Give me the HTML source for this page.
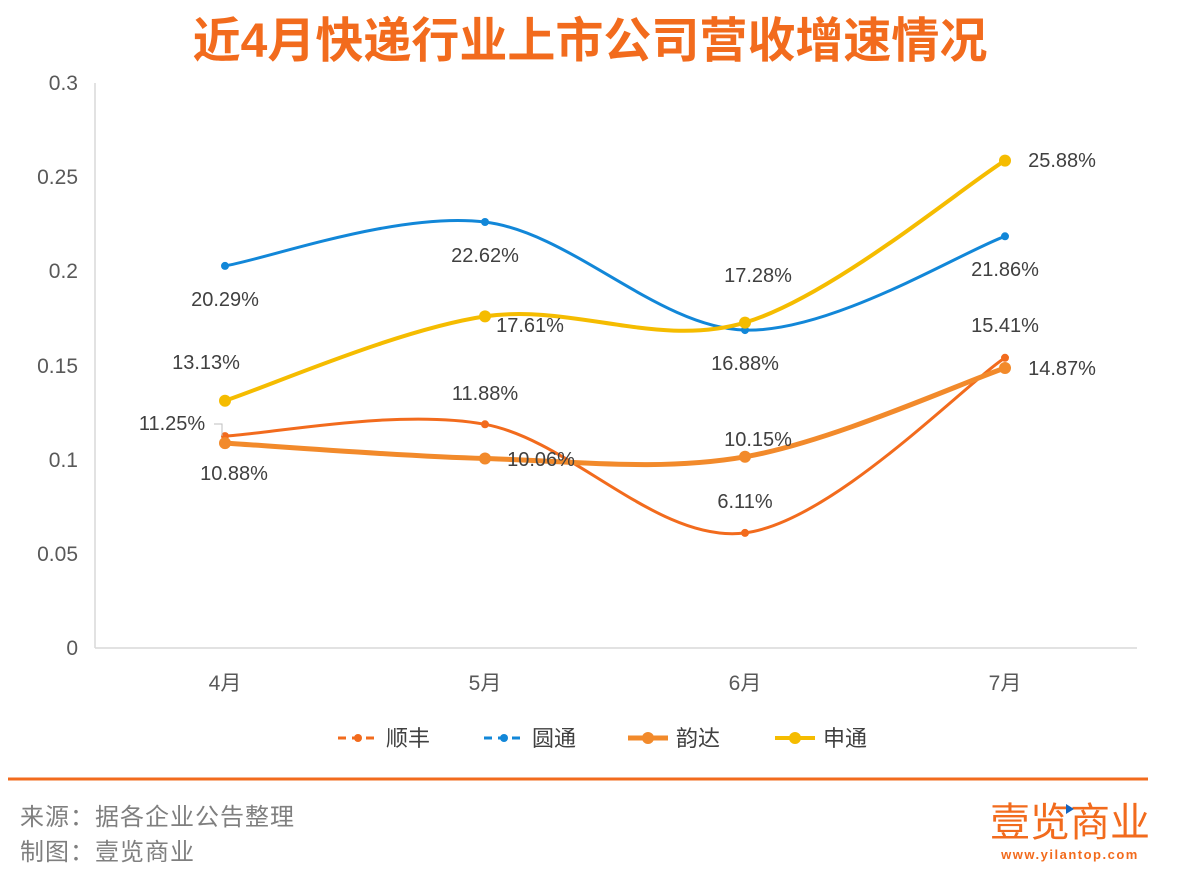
<!DOCTYPE html>
<html><head><meta charset="utf-8"><style>
body{margin:0;background:#fff;width:1178px;height:877px;overflow:hidden;font-family:"Liberation Sans","Noto Sans CJK SC",sans-serif}
</style></head><body>
<svg width="1178" height="877" xmlns="http://www.w3.org/2000/svg" font-family="Liberation Sans, Noto Sans CJK SC, sans-serif">
<rect width="1178" height="877" fill="#fff"/>
<text x="590" y="57" text-anchor="middle" font-size="48" font-weight="bold" fill="#F26B1D">近4月快递行业上市公司营收增速情况</text>
<g stroke="#d9d9d9" stroke-width="1.5" fill="none">
<line x1="95" y1="83" x2="95" y2="648"/><line x1="95" y1="648" x2="1137" y2="648"/>
</g>
<g font-size="21" fill="#595959" text-anchor="end">
<text x="78" y="90">0.3</text><text x="78" y="184">0.25</text><text x="78" y="278">0.2</text>
<text x="78" y="373">0.15</text><text x="78" y="467">0.1</text><text x="78" y="561">0.05</text><text x="78" y="655">0</text>
</g>
<g font-size="21" fill="#595959" text-anchor="middle">
<text x="225" y="690">4月</text><text x="485" y="690">5月</text><text x="745" y="690">6月</text><text x="1005" y="690">7月</text>
</g>
<g fill="none" stroke-linecap="round">
<path d="M225,436.1 C268.3,434.1 398.3,408.2 485,424.3 C571.7,440.4 658.3,544 745,532.9 C831.7,521.8 961.7,387 1005,357.8" stroke="#F26B1D" stroke-width="3"/>
<path d="M225,265.9 C268.3,258.6 398.3,211.3 485,222 C571.7,232.7 658.3,327.7 745,330.1 C831.7,332.5 961.7,251.9 1005,236.3" stroke="#1287D8" stroke-width="3"/>
<path d="M225,443.1 C268.3,445.7 398.3,456.2 485,458.5 C571.7,460.8 658.3,471.9 745,456.8 C831.7,441.7 961.7,382.8 1005,368" stroke="#F28A2B" stroke-width="5"/>
<path d="M225,400.7 C268.3,386.6 398.3,329.4 485,316.4 C571.7,303.4 658.3,348.6 745,322.6 C831.7,296.6 961.7,187.6 1005,160.6" stroke="#F5BC00" stroke-width="4"/>
</g>
<g fill="#F26B1D"><circle cx="225" cy="436.1" r="4"/><circle cx="485" cy="424.3" r="4"/><circle cx="745" cy="532.9" r="4"/><circle cx="1005" cy="357.8" r="4"/></g>
<g fill="#1287D8"><circle cx="225" cy="265.9" r="4"/><circle cx="485" cy="222" r="4"/><circle cx="745" cy="330.1" r="4"/><circle cx="1005" cy="236.3" r="4"/></g>
<g fill="#F28A2B"><circle cx="225" cy="443.1" r="6"/><circle cx="485" cy="458.5" r="6"/><circle cx="745" cy="456.8" r="6"/><circle cx="1005" cy="368" r="6"/></g>
<g fill="#F5BC00"><circle cx="225" cy="400.7" r="6"/><circle cx="485" cy="316.4" r="6"/><circle cx="745" cy="322.6" r="6"/><circle cx="1005" cy="160.6" r="6"/></g>
<path d="M214,424 L222,424 L222,436" stroke="#bfbfbf" fill="none"/>
<g font-size="20" fill="#404040" text-anchor="middle">
<text x="225" y="306">20.29%</text><text x="485" y="262">22.62%</text><text x="745" y="370">16.88%</text><text x="1005" y="276">21.86%</text>
<text x="206" y="369">13.13%</text><text x="530" y="332">17.61%</text><text x="758" y="282">17.28%</text><text x="1062" y="167">25.88%</text>
<text x="172" y="430">11.25%</text><text x="485" y="400">11.88%</text><text x="745" y="508">6.11%</text><text x="1005" y="332">15.41%</text>
<text x="234" y="480">10.88%</text><text x="541" y="466">10.06%</text><text x="758" y="446">10.15%</text><text x="1062" y="375">14.87%</text>
</g>
<g font-size="22" fill="#404040">
<line x1="338" y1="738" x2="378" y2="738" stroke="#F26B1D" stroke-width="3" stroke-dasharray="8,6"/><circle cx="358" cy="738" r="4" fill="#F26B1D"/><text x="386" y="746">顺丰</text>
<line x1="484" y1="738" x2="524" y2="738" stroke="#1287D8" stroke-width="3" stroke-dasharray="8,6"/><circle cx="504" cy="738" r="4" fill="#1287D8"/><text x="532" y="746">圆通</text>
<line x1="628" y1="738" x2="668" y2="738" stroke="#F28A2B" stroke-width="5"/><circle cx="648" cy="738" r="6" fill="#F28A2B"/><text x="676" y="746">韵达</text>
<line x1="775" y1="738" x2="815" y2="738" stroke="#F5BC00" stroke-width="4"/><circle cx="795" cy="738" r="6" fill="#F5BC00"/><text x="823" y="746">申通</text>
</g>
<line x1="8" y1="779" x2="1148" y2="779" stroke="#F26B1D" stroke-width="3"/>
<g font-size="24" fill="#7f7f7f" letter-spacing="1">
<text x="20" y="825">来源：据各企业公告整理</text><text x="20" y="860">制图：壹览商业</text>
</g>
<text x="1070" y="836" text-anchor="middle" font-size="40" fill="#F26B1D">壹览商业</text>
<path d="M1066,804 L1074,809 L1066,814Z" fill="#1565C0"/>
<text x="1070" y="859" text-anchor="middle" font-size="13" font-weight="bold" fill="#F26B1D" letter-spacing="1.5">www.yilantop.com</text>
</svg>
</body></html>
